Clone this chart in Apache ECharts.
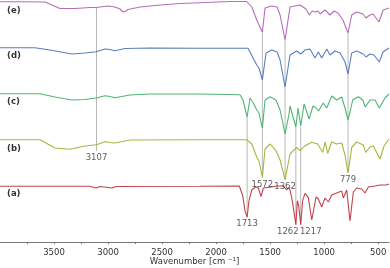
<!DOCTYPE html>
<html><head><meta charset="utf-8">
<script src="https://cdn.jsdelivr.net/npm/echarts@6/dist/echarts.min.js"></script>
<style>html,body{margin:0;padding:0;background:#fff}#c{width:390px;height:268px}</style>
</head><body><div id="c"></div>
<script>
// x tick labels (wavenumber, cm-1)
var xLabels = [500, 1000, 1500, 2000, 2500, 3000, 3500];
var xTicks = [500, 750, 1000, 1250, 1500, 1750, 2000, 2250, 2500, 2750, 3000, 3250, 3500, 3750];
var seriesNames = ['(a)', '(b)', '(c)', '(d)', '(e)'];
var seriesColors = ['#c2434d', '#a6b63e', '#4fb575', '#5b7ec0', '#b56db9'];

// spectra: [wavenumber, offset intensity (a.u.)]
var specE = [[4000,240.3],[3815,240.3],[3584,240],[3519,237],[3445,233.5],[3306,233.5],[3167,234.5],[3110,234.5],[3075,235],[3000,236],[2936,235],[2889,233],[2862,230],[2834,231],[2815,232.5],[2704,235],[2519,237],[2334,238.5],[2149,239.3],[1871,240.5],[1717,240.5],[1670,235],[1624,222],[1603,217],[1572,210],[1547,234],[1485,236],[1436,235],[1408,227],[1362,202],[1316,235],[1224,237],[1168,233],[1137,227],[1112,231],[1085,230],[1057,231],[1038,228],[992,232],[946,227],[909,231],[872,229],[826,222],[779,209],[745,227],[699,230],[641,228],[613,224],[576,227],[548,228],[492,220],[455,232],[400,234]];
var specD = [[4000,194.3],[3676,194.3],[3537,192],[3334,188],[3213,189],[3110,190.3],[3028,193],[2982,192.5],[2936,191.3],[2843,193.5],[2612,194],[2149,193.7],[1705,193.7],[1658,184],[1624,177],[1603,174],[1572,162],[1538,189],[1485,192],[1436,190],[1408,182],[1362,155],[1316,187],[1254,191],[1217,188],[1177,192],[1131,193],[1085,184],[1054,190],[1023,184],[976,193],[946,187],[900,191],[853,189],[807,180],[779,168],[745,189],[699,191],[638,188],[613,185],[576,188],[539,187],[490,180],[455,190],[400,194]];
var specC = [[4000,148.3],[3630,148.3],[3491,145],[3334,142],[3213,142.5],[3110,144],[3028,146.3],[2982,145.5],[2936,144.3],[2797,147],[2612,148],[2149,148],[1779,147.3],[1751,142],[1713,125],[1686,144],[1656,139],[1624,132],[1603,129],[1572,114],[1547,142],[1501,145.3],[1446,142],[1408,132],[1362,108],[1325,128],[1316,136],[1262,115],[1242,134],[1217,116],[1186,138],[1168,136],[1140,123],[1103,136],[1075,134],[1052,131],[1008,139],[976,134],[930,146],[884,142],[838,145],[807,134],[779,122],[761,130],[736,142],[684,145.3],[643,142],[619,135],[576,142],[529,142],[490,134],[437,144],[400,148]];
var specB = [[4000,102.3],[3630,102.3],[3491,94],[3352,92.7],[3213,96],[3107,97.3],[3028,100.3],[2982,99.5],[2936,99],[2797,102],[2149,102.3],[1717,102.3],[1670,98],[1624,85],[1603,81],[1572,65],[1547,93],[1501,98],[1446,91.3],[1408,82],[1362,62.3],[1316,88],[1254,94.7],[1224,91.3],[1177,96.3],[1115,99.7],[1060,98],[1013,89.7],[992,100],[967,88.7],[930,100],[884,98],[838,99],[807,87],[779,69],[745,94.7],[699,100],[638,97],[616,89.7],[576,95],[545,96],[483,83],[446,96],[400,103]];
var specA = [[4000,55.7],[3167,55.7],[3110,54],[3075,55.5],[2963,54],[2926,55.5],[2149,55.7],[1785,56],[1754,46.3],[1733,31.3],[1713,24.7],[1696,41.3],[1670,52],[1631,55.3],[1609,54],[1584,45.3],[1563,54],[1501,54.7],[1439,56],[1378,56],[1347,52],[1330,54.5],[1316,52],[1295,41.3],[1262,17.3],[1248,41.3],[1236,36.3],[1217,17.3],[1199,41.3],[1177,48.7],[1147,44.7],[1115,22],[1075,45],[1054,43],[1023,35],[992,44],[961,40],[930,47],[884,49],[838,51],[823,44],[791,52],[779,50],[761,21],[730,50],[699,54],[653,53],[622,49],[591,55],[529,56],[483,57],[428,57],[400,58]];

// marked bands: wavenumber, top, bottom of guide line, label offset
var bandWn = [3107, 1713, 1572, 1362, 1262, 1217, 779];
var bandTop = [234, 125, 211, 202, 115, 115, 209];
var bandBottom = [91, 25, 64, 62, 17, 17, 69];
var bandLabelDx = [0, 0, 0, 0, -8, 10, 0];

var chart = echarts.init(document.getElementById('c'), null, {renderer: 'canvas'});
var specs = [specA, specB, specC, specD, specE];
var series = [];
bandWn.forEach(function (w, i) {
  series.push({
    type: 'line', silent: true, symbol: 'none', z: 1,
    lineStyle: {color: '#b8b8b8', width: 1},
    data: [[w, bandTop[i]], [w, bandBottom[i]]]
  });
  series.push({
    type: 'scatter', silent: true, symbolSize: 0, z: 5,
    data: [[w, bandBottom[i]]],
    label: {show: true, position: 'bottom', distance: 2, offset: [bandLabelDx[i], 0],
      formatter: String(w), fontSize: 8.5, fontFamily: 'DejaVu Sans', color: '#333'}
  });
});
specs.forEach(function (s, i) {
  series.push({
    name: seriesNames[i], type: 'line', data: s, showSymbol: false, z: 3,
    lineStyle: {color: seriesColors[i], width: 1.1}, silent: true
  });
});

var labelY = [194, 149, 102, 56, 11];
var graphics = seriesNames.map(function (n, i) {
  return {type: 'text', left: 7, top: labelY[i] - 5,
    style: {text: n, fontSize: 8.5, fontWeight: 'bold', fontFamily: 'DejaVu Sans', fill: '#333'}};
});

chart.setOption({
  animation: false,
  grid: {left: 0, right: 1, top: 0, bottom: 25, containLabel: false, outerBoundsMode: 'none'},
  xAxis: {
    type: 'value', min: 400, max: 4000, inverse: true,
    name: 'Wavenumber [cm \u207B\u00B9]', nameLocation: 'middle', nameGap: 14, nameMoveOverlap: false,
    nameTextStyle: {fontSize: 8.5, fontFamily: 'DejaVu Sans', color: '#333'},
    axisLine: {lineStyle: {color: '#777', width: 1}},
    axisTick: {show: true, length: 2, inside: false, customValues: xTicks, lineStyle: {color: '#777'}},
    axisLabel: {customValues: xLabels, fontSize: 8.5, fontFamily: 'DejaVu Sans', color: '#333', margin: 5,
      formatter: function (v) { return String(v); }},
    splitLine: {show: false}
  },
  yAxis: {type: 'value', min: -1, max: 242, show: false, splitLine: {show: false}},
  series: series,
  graphic: graphics
});
</script></body></html>
